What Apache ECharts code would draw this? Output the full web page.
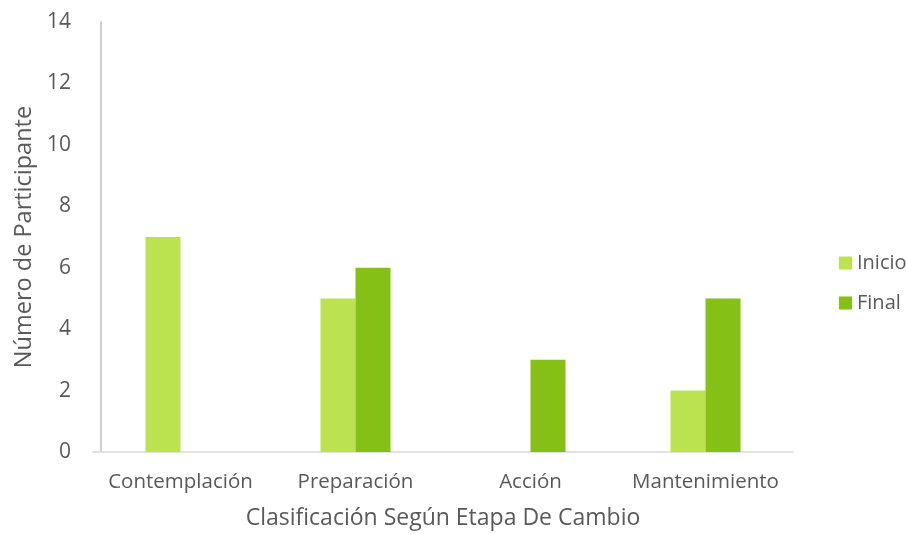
<!DOCTYPE html>
<html>
<head>
<meta charset="utf-8">
<script src="https://cdn.jsdelivr.net/npm/echarts@6/dist/echarts.min.js"></script>
<style>
  html, body { margin: 0; padding: 0; background: #fff; }
  #chart { width: 906px; height: 534px; }
</style>
</head>
<body>
<div id="chart"></div>
<script>
// datos
var categories = ['Contemplación', 'Preparación', 'Acción', 'Mantenimiento']
var inicio = [7, 5, 0, 2]
var final = [0, 6, 3, 5]
var yTicks = [0, 2, 4, 6, 8, 10, 12, 14]

var font = 'Open Sans'
var textColor = '#595959'

var chart = echarts.init(document.getElementById('chart'))
chart.setOption({
  animation: false,
  textStyle: { fontFamily: font },
  grid: { left: 93, right: 113, top: 22, bottom: 82, containLabel: false, outerBoundsMode: 'none' },
  legend: {
    orient: 'vertical',
    left: 834,
    top: 248,
    itemWidth: 13,
    itemHeight: 13,
    itemGap: 20,
    itemSymbolGap: 5,
    icon: 'rect',
    textStyle: { color: textColor, fontSize: 20, fontFamily: font },
    data: ['Inicio', 'Final']
  },
  xAxis: {
    type: 'category',
    data: categories,
    name: 'Clasificación Según Etapa De Cambio',
    nameLocation: 'middle',
    nameGap: 55,
    nameTextStyle: { color: textColor, fontSize: 23, fontFamily: font },
    axisLine: { lineStyle: { color: '#d9d9d9', width: 1.5 } },
    axisTick: { show: false },
    axisLabel: { color: textColor, fontSize: 20.5, margin: 20, interval: 0, fontFamily: font }
  },
  yAxis: {
    type: 'value',
    min: yTicks[0],
    max: yTicks[yTicks.length - 1],
    interval: 2,
    offset: -8,
    name: 'Número de Participante',
    nameLocation: 'middle',
    nameGap: 63,
    nameTextStyle: { color: textColor, fontSize: 23.5, fontFamily: font },
    axisLine: { show: true, lineStyle: { color: '#bfbfbf', width: 1.5 } },
    axisTick: { show: false },
    splitLine: { show: false },
    axisLabel: { color: textColor, fontSize: 21, margin: 30, fontFamily: font }
  },
  series: [
    {
      name: 'Inicio',
      type: 'bar',
      data: inicio,
      barWidth: 35,
      barGap: '0%',
      itemStyle: { color: '#bbe350' }
    },
    {
      name: 'Final',
      type: 'bar',
      data: final,
      barWidth: 35,
      barGap: '0%',
      itemStyle: { color: '#84c015' }
    }
  ]
})
</script>
</body>
</html>
